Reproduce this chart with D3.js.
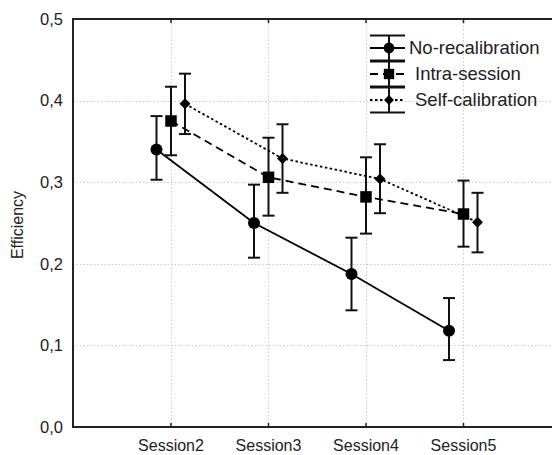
<!DOCTYPE html>
<html>
<head>
<meta charset="utf-8">
<script src="https://cdn.jsdelivr.net/npm/d3@7"></script>
<style>
  html, body { margin: 0; padding: 0; background: #fff; }
  svg { display: block; font-family: "Liberation Sans", Arial, sans-serif; }
</style>
</head>
<body>
<div id="chart"></div>
<script>
// Sessions on the x axis
const sessions = ["Session2", "Session3", "Session4", "Session5"];

// Mean efficiency per session
const noRecalMean   = [0.340, 0.250, 0.1875, 0.118];
const intraMean     = [0.375, 0.306, 0.282, 0.261];
const selfCalMean   = [0.396, 0.329, 0.304, 0.251];

// Upper / lower error-bar limits
const noRecalHi  = [0.381, 0.297, 0.232, 0.158];
const noRecalLo  = [0.303, 0.2075, 0.143, 0.082];
const intraHi    = [0.417, 0.3545, 0.3305, 0.302];
const intraLo    = [0.333, 0.259, 0.237, 0.221];
const selfCalHi  = [0.433, 0.371, 0.3465, 0.287];
const selfCalLo  = [0.359, 0.287, 0.262, 0.214];

const seriesNames = ["No-recalibration", "Intra-session", "Self-calibration"];
const yTicks = [0, 0.1, 0.2, 0.3, 0.4, 0.5];

const W = 552, H = 455;
const plotLeft = 73, plotTop = 19, plotBottom = 427;

const svg = d3.select("#chart").append("svg")
  .attr("width", W).attr("height", H);

const x = d3.scaleLinear().domain([-1, 4]).range([plotLeft, 560.5]);
const y = d3.scaleLinear().domain([0, 0.5]).range([plotBottom, plotTop]);

const fmt = v => d3.format(".1f")(v).replace(".", ",");

// grid
const grid = svg.append("g").attr("stroke", "#c8c8c8").attr("stroke-width", 1)
  .attr("stroke-dasharray", "1.5,2");
grid.selectAll("line.gy").data(yTicks.slice(1, -1)).join("line")
  .attr("x1", plotLeft).attr("x2", W).attr("y1", d => Math.round(y(d)) + 0.5).attr("y2", d => Math.round(y(d)) + 0.5);
grid.selectAll("line.gx").data(sessions).join("line")
  .attr("x1", (d, i) => Math.round(x(i)) + 0.5).attr("x2", (d, i) => Math.round(x(i)) + 0.5)
  .attr("y1", plotTop).attr("y2", plotBottom);

// axes
const yAxis = d3.axisLeft(y).tickValues(yTicks).tickFormat(fmt).tickSize(0).tickPadding(10);
const gy = svg.append("g").attr("transform", `translate(${plotLeft},0)`).call(yAxis);
gy.select(".domain").remove();
gy.selectAll("text").attr("font-size", 16.5).attr("fill", "#222")
  .attr("font-family", "'Liberation Sans', Arial, sans-serif");

const xAxis = d3.axisBottom(x).tickValues(d3.range(sessions.length))
  .tickFormat(i => sessions[i]).tickSize(-4).tickPadding(13);
const gx = svg.append("g").attr("transform", `translate(0,${plotBottom})`).call(xAxis);
gx.select(".domain").remove();
gx.selectAll(".tick line").attr("stroke", "#222").attr("stroke-width", 1.5);
gx.selectAll("text").attr("font-size", 16).attr("fill", "#222")
  .attr("font-family", "'Liberation Sans', Arial, sans-serif");

const xTop = d3.axisTop(x).tickValues(d3.range(sessions.length)).tickFormat("").tickSize(-4);
const gt = svg.append("g").attr("transform", `translate(0,${plotTop})`).call(xTop);
gt.select(".domain").remove();
gt.selectAll(".tick line").attr("stroke", "#222").attr("stroke-width", 1.5);

// frame: left, bottom, top
svg.append("path")
  .attr("d", `M${W},${plotTop}H${plotLeft}V${plotBottom}H${W}`)
  .attr("fill", "none").attr("stroke", "#222").attr("stroke-width", 2);

svg.append("text")
  .attr("transform", `translate(23,225) rotate(-90)`)
  .attr("text-anchor", "middle").attr("font-size", 16).attr("fill", "#222")
  .text("Efficiency");

// series definitions
const series = [
  { name: seriesNames[0], mean: noRecalMean, hi: noRecalHi, lo: noRecalLo, dx: -14, dash: null, marker: "circle" },
  { name: seriesNames[1], mean: intraMean, hi: intraHi, lo: intraLo, dx: 0.5, dash: "8,5", marker: "square" },
  { name: seriesNames[2], mean: selfCalMean, hi: selfCalHi, lo: selfCalLo, dx: 14.5, dash: "2.5,2.5", marker: "diamond" }
];

function drawMarker(g, type, cx, cy, scale = 1) {
  if (type === "circle") {
    g.append("circle").attr("cx", cx).attr("cy", cy).attr("r", 6 * scale).attr("fill", "#000");
  } else if (type === "square") {
    const s = 11.5 * scale;
    g.append("rect").attr("x", cx - s / 2).attr("y", cy - s / 2).attr("width", s).attr("height", s).attr("fill", "#000");
  } else {
    const r = 5.5 * scale;
    g.append("path").attr("d", `M${cx},${cy - r}L${cx + r},${cy}L${cx},${cy + r}L${cx - r},${cy}Z`).attr("fill", "#000");
  }
}

const plot = svg.append("g");
const capW = 12;

series.forEach(s => {
  const g = plot.append("g");
  const line = d3.line().x((d, i) => x(i) + s.dx).y(d => y(d));
  g.append("path").datum(s.mean).attr("d", line)
    .attr("fill", "none").attr("stroke", "#000").attr("stroke-width", 1.8)
    .attr("stroke-dasharray", s.dash);
  s.mean.forEach((m, i) => {
    const cx = x(i) + s.dx;
    const yh = y(s.hi[i]), yl = y(s.lo[i]);
    g.append("line").attr("x1", cx).attr("x2", cx).attr("y1", yh).attr("y2", yl)
      .attr("stroke", "#111").attr("stroke-width", 2);
    [yh, yl].forEach(yy => g.append("line")
      .attr("x1", cx - capW / 2).attr("x2", cx + capW / 2).attr("y1", yy).attr("y2", yy)
      .attr("stroke", "#111").attr("stroke-width", 2));
    drawMarker(g, s.marker, cx, y(m));
  });
});

// legend
const legend = svg.append("g");
const legRows = [48, 74, 100];
const lx0 = 370, lx1 = 405, lcx = 389;
series.forEach((s, k) => {
  const cy = legRows[k];
  const g = legend.append("g");
  [cy - 12.5, cy + 12.5].forEach(yy => g.append("line")
    .attr("x1", lx0).attr("x2", lx1).attr("y1", yy).attr("y2", yy)
    .attr("stroke", "#111").attr("stroke-width", 2));
  g.append("line").attr("x1", lcx).attr("x2", lcx).attr("y1", cy - 12.5).attr("y2", cy + 12.5)
    .attr("stroke", "#111").attr("stroke-width", 2);
  g.append("line").attr("x1", lx0).attr("x2", lx1).attr("y1", cy).attr("y2", cy)
    .attr("stroke", "#000").attr("stroke-width", 1.8).attr("stroke-dasharray", s.dash);
  drawMarker(g, s.marker, lcx, cy, 0.9);
  g.append("text").attr("x", k === 0 ? 409 : 415).attr("y", cy).attr("dy", "0.35em")
    .attr("font-size", 18.5).attr("fill", "#222").text(s.name);
});
</script>
</body>
</html>
